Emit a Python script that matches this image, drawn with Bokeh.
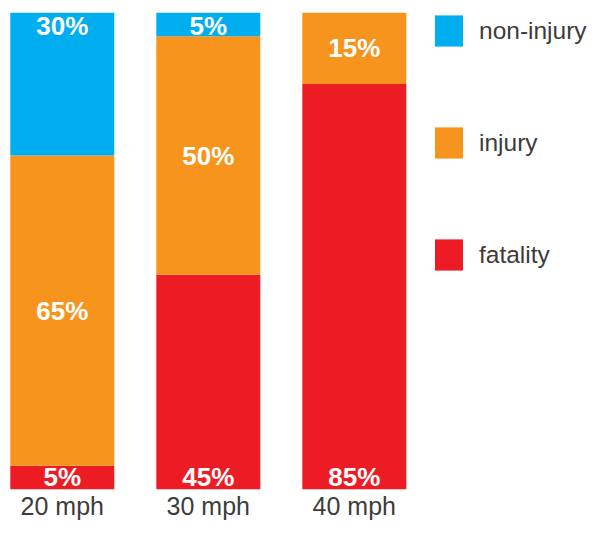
from bokeh.plotting import figure
from bokeh.models import ColumnDataSource, Range1d, FixedTicker, Legend, LegendItem
from bokeh.core.properties import value
from bokeh.embed import file_html
from bokeh.resources import INLINE

# ---- data ----
speeds = ["20 mph", "30 mph", "40 mph"]
fatality = [5, 45, 85]
injury = [65, 50, 15]
non_injury = [30, 5, 0]
series_names = ["fatality", "injury", "non-injury"]
colors = ["#ED1C24", "#F7941D", "#00AEEF"]

FONT = "Liberation Sans"
W, H = 592, 522
TOP, BOTTOM = 12, 32
FRAME_H = H - TOP - BOTTOM
PX_PER_CAT = 146.0
X0 = -61.8 / PX_PER_CAT

xs = list(range(len(speeds)))
src = ColumnDataSource(dict(x=xs, fatality=fatality, injury=injury, non_injury=non_injury))

p = figure(width=W, height=H, output_backend="svg", toolbar_location=None,
           x_range=Range1d(X0, X0 + W / PX_PER_CAT), y_range=Range1d(0, 100),
           y_axis_location=None, min_border_left=0, min_border_right=0,
           min_border_top=TOP, min_border_bottom=BOTTOM)

rs = p.vbar_stack(["fatality", "injury", "non_injury"], x="x", width=104 / PX_PER_CAT,
                  color=colors, line_color=None, source=src)

# ---- value labels ----
top_x, top_y, top_t = [], [], []
mid_x, mid_y, mid_t = [], [], []
bot_x, bot_y, bot_t = [], [], []
for i in xs:
    f, j, n = fatality[i], injury[i], non_injury[i]
    if f > 0:
        bot_x.append(i); bot_y.append(0); bot_t.append(f"{f}%")
    if j > 0:
        mid_x.append(i); mid_y.append(f + j / 2); mid_t.append(f"{j}%")
    if n > 0:
        top_x.append(i); top_y.append(f + j + n); top_t.append(f"{n}%")

common = dict(text_color="white", text_font=value(FONT), text_font_style="bold",
              text_font_size="26px", text_align="center")
p.text(x=top_x, y=top_y, text=top_t, text_baseline="top", y_offset=-2, **common)
p.text(x=mid_x, y=mid_y, text=mid_t, text_baseline="middle", **common)
p.text(x=bot_x, y=bot_y, text=bot_t, text_baseline="bottom", y_offset=2, **common)

# ---- axis ----
ax = p.xaxis[0]
ax.ticker = FixedTicker(ticks=xs)
ax.major_label_overrides = {i: s for i, s in enumerate(speeds)}
ax.axis_line_color = None
ax.major_tick_line_color = None
ax.minor_tick_line_color = None
ax.major_tick_out = 0
ax.major_tick_in = 0
ax.major_label_standoff = 2
ax.major_label_text_font = FONT
ax.major_label_text_font_size = "25px"
ax.major_label_text_color = "#3c3c3c"

p.grid.visible = False
p.outline_line_color = None

# ---- legend ----
items = [LegendItem(label=name, renderers=[r]) for name, r in zip(series_names, rs)][::-1]
GW, GH, GAP = 35, 39, 73
leg_h = 3 * GH + 2 * GAP
legend = Legend(items=items, location=(431, FRAME_H - leg_h), orientation="vertical",
                glyph_width=GW, glyph_height=GH, spacing=GAP, padding=0, margin=0,
                label_standoff=13, border_line_color=None, background_fill_alpha=0,
                label_text_font=FONT, label_text_font_size="24.5px",
                label_text_color="#3c3c3c")
p.add_layout(legend)

open("out.html", "w").write(file_html(p, INLINE))
